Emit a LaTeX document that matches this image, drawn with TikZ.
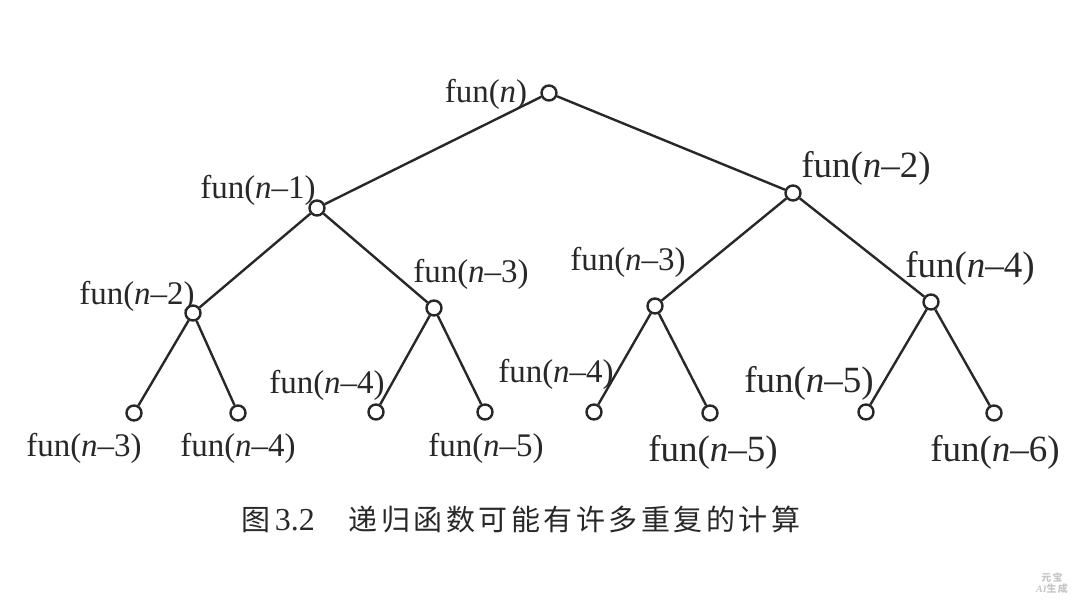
\documentclass[tikz,border=0pt]{standalone}
\usepackage{fontspec}
\setmainfont{Liberation Serif}
\newfontfamily\cjk[LetterSpace=12]{Noto Sans CJK SC}
\usetikzlibrary{positioning}
\definecolor{inkgray}{RGB}{40, 40, 40}

\tikzset{
  vtx/.style={circle, draw=inkgray, fill=white, line width=2.4pt, minimum size=15pt, inner sep=0pt},
  edge/.style={draw=inkgray, line width=2.4pt},
  lbl/.style={text=inkgray, inner sep=0pt, font=\fontsize{33}{36}\selectfont},
  lblbig/.style={lbl, font=\fontsize{37}{40}\selectfont}
}
\newcommand{\fn}[1]{fun(\textit{n}#1)}

\begin{document}
\begin{tikzpicture}[x=1pt, y=-1pt]
  \useasboundingbox (0,0) rectangle (1080,608);

  % vertices
  \node[vtx] (r)   at (549,93)  {};
  \node[vtx] (a)   at (317,208) {};
  \node[vtx] (b)   at (793,193) {};
  \node[vtx] (aa)  at (193,313) {};
  \node[vtx] (ab)  at (434,308) {};
  \node[vtx] (ba)  at (655,306) {};
  \node[vtx] (bb)  at (931,302) {};
  \node[vtx] (aaa) at (134,413) {};
  \node[vtx] (aab) at (238,413) {};
  \node[vtx] (aba) at (376,412) {};
  \node[vtx] (abb) at (485,412) {};
  \node[vtx] (baa) at (594,412) {};
  \node[vtx] (bab) at (710,413) {};
  \node[vtx] (bba) at (866,412) {};
  \node[vtx] (bbb) at (994,413) {};

  % edges
  \foreach \p/\c in {r/a, r/b, a/aa, a/ab, b/ba, b/bb,
                     aa/aaa, aa/aab, ab/aba, ab/abb,
                     ba/baa, ba/bab, bb/bba, bb/bbb}
    \draw[edge] (\p) -- (\c);

  % labels
  \node[lbl]    (lr)   at (486,94)  {\fn{}};
  \node[lbl]    (la)   at (258,190) {\fn{--1}};
  \node[lblbig] (lb)   at (866,168) {\fn{--2}};
  \node[lbl]    (laa)  at (137,296) {\fn{--2}};
  \node[lbl]    (lab)  at (471,274) {\fn{--3}};
  \node[lbl]    (lba)  at (628,262) {\fn{--3}};
  \node[lblbig] (lbb)  at (970,268) {\fn{--4}};
  \node[lbl]    (laba) at (327,385) {\fn{--4}};
  \node[lbl]    (lbaa) at (556,374) {\fn{--4}};
  \node[lblbig] (lbba) at (809,383) {\fn{--5}};
  \node[lbl]    (laaa) at (84,448)  {\fn{--3}};
  \node[lbl]    (laab) at (238,448) {\fn{--4}};
  \node[lbl]    (labb) at (486,448) {\fn{--5}};
  \node[lblbig] (lbab) at (713,452) {\fn{--5}};
  \node[lblbig] (lbbb) at (995,452) {\fn{--6}};

  % caption
  \node[text=inkgray, inner sep=0pt, font=\fontsize{29}{34}\selectfont] (cap) at (521,519)
    {{\cjk 图}\hspace{4pt}\fontsize{32}{34}\selectfont 3.2\hspace{34pt}{\fontsize{29}{34}\selectfont\cjk 递归函数可能有许多重复的计算}};

  % watermark
  \node[text=gray!45, inner sep=0pt, align=center, font=\fontsize{10}{11}\selectfont\bfseries\itshape] (mark) at (1052,583)
    {{\cjk 元宝}\\AI{\cjk 生成}};
\end{tikzpicture}
\end{document}
